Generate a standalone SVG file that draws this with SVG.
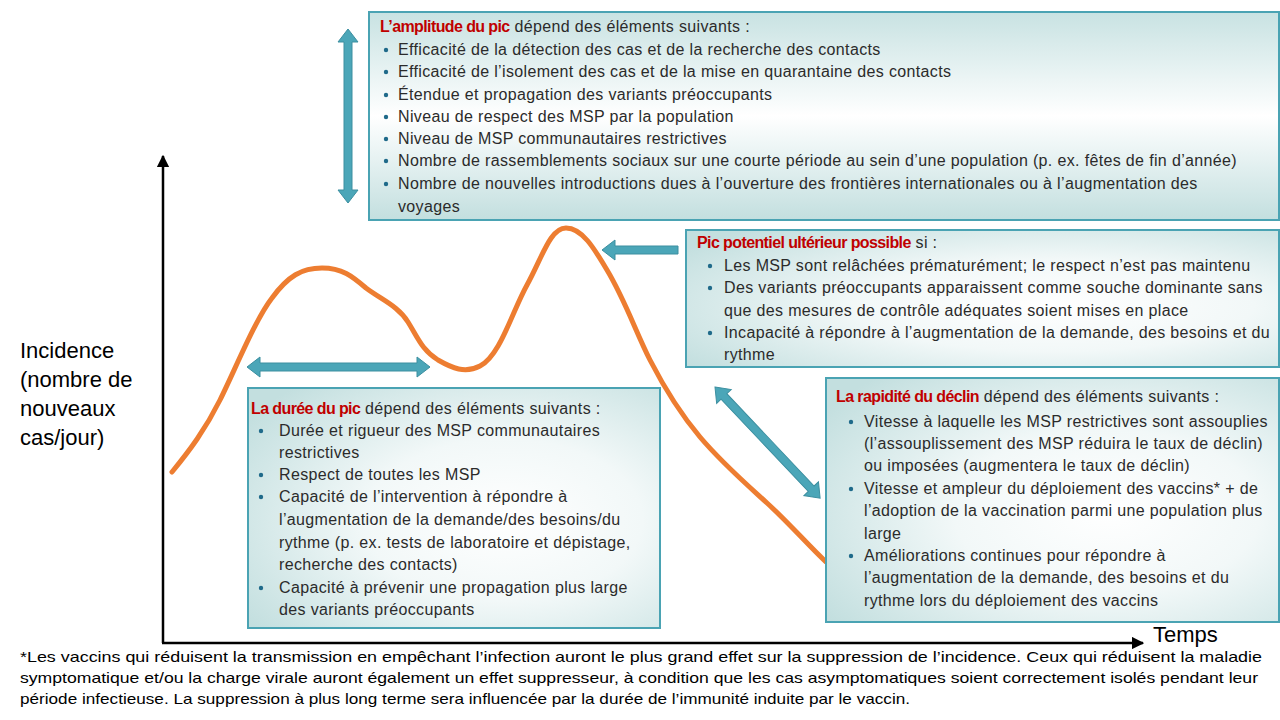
<svg xmlns="http://www.w3.org/2000/svg" width="1280" height="720" viewBox="0 0 1280 720">
<defs>
<radialGradient id="gR" cx="0.62" cy="0.55" r="0.75">
<stop offset="0" stop-color="#ffffff"/>
<stop offset="0.45" stop-color="#f2f8f8"/>
<stop offset="1" stop-color="#c3dfdf"/>
</radialGradient>
<linearGradient id="gV" x1="0" y1="0" x2="0" y2="1">
<stop offset="0" stop-color="#c8e2e2"/>
<stop offset="0.5" stop-color="#ffffff"/>
<stop offset="1" stop-color="#c3dfdf"/>
</linearGradient>
<marker id="ah" viewBox="0 0 10 10" refX="9" refY="5" markerWidth="5" markerHeight="5" orient="auto">
<path d="M0,0 L10,5 L0,10 z" fill="#000"/>
</marker>
</defs>
<style>
.box{stroke:#4aa3b3;stroke-width:2}
.t{font-family:"Liberation Sans",Arial,sans-serif;font-size:16px;letter-spacing:0.35px;fill:#2b2b2b}
.r{font-size:16px;font-weight:bold;letter-spacing:-0.6px;fill:#c00000}
.lab{font-family:"Liberation Sans",Arial,sans-serif;font-size:22px;fill:#000}
.fn{font-family:"Liberation Sans",Arial,sans-serif;font-size:15px;fill:#000}
.dot{fill:#1f6a8a}
.arr{fill:#4ba6b8;stroke:#3c8fa0;stroke-width:1}
.curve{fill:none;stroke:#ed7d31;stroke-width:5;stroke-linecap:round;stroke-linejoin:round}
.axis{stroke:#000;stroke-width:2.5;fill:none}
</style>
<rect width="1280" height="720" fill="#fff"/>

<g id="axes">
<line class="axis" x1="163" y1="643" x2="163" y2="156" marker-end="url(#ah)"/>
<line class="axis" x1="162" y1="643" x2="1143" y2="643" marker-end="url(#ah)"/>
<text class="lab" x="1153" y="642">Temps</text>
<text class="lab" x="20" y="358">Incidence</text>
<text class="lab" x="20" y="387">(nombre de</text>
<text class="lab" x="20" y="416">nouveaux</text>
<text class="lab" x="20" y="445">cas/jour)</text>
</g>

<g id="curve">
<path class="curve" d="M172,472 C190,450 205,430 220,400 C235,370 255,320 272,298 C288,276 302,268 322,268 C342,268 352,276 366,288 C382,300 398,306 408,322 C418,338 422,350 438,360 C452,368 465,374 480,366 C500,356 512,312 527,285 C542,258 550,228 566,228 C582,228 594,248 607,270 C625,300 635,330 650,360 C668,395 684,418 700,437 C722,463 744,482 767,503 C788,522 808,545 826,562"/>
</g>

<g id="connectors">
<polygon class="arr" transform="translate(348,29) rotate(90)" points="0,0 13,-10 13,-4 161,-4 161,-10 174,0 161,10 161,4 13,4 13,10"/>
<polygon class="arr" transform="translate(247,367)" points="0,0 13,-10 13,-4 170,-4 170,-10 183,0 170,10 170,4 13,4 13,10"/>
<polygon class="arr" points="602,250 615,240 615,246 678,246 678,254 615,254 615,260"/>
<polygon class="arr" transform="translate(715,387) rotate(46.6)" points="0,0 13,-10 13,-4 140,-4 140,-10 153,0 140,10 140,4 13,4 13,10"/>
</g>

<g id="box-amplitude">
<rect class="box" x="369" y="12" width="910" height="208" fill="url(#gV)"/>
<text class="t" x="380" y="32"><tspan class="r">L’amplitude du pic</tspan> dépend des éléments suivants :</text>
<circle class="dot" cx="386" cy="50" r="2.2"/><text class="t" x="398" y="55">Efficacité de la détection des cas et de la recherche des contacts</text>
<circle class="dot" cx="386" cy="72" r="2.2"/><text class="t" x="398" y="77">Efficacité de l’isolement des cas et de la mise en quarantaine des contacts</text>
<circle class="dot" cx="386" cy="95" r="2.2"/><text class="t" x="398" y="100">Étendue et propagation des variants préoccupants</text>
<circle class="dot" cx="386" cy="117" r="2.2"/><text class="t" x="398" y="122">Niveau de respect des MSP par la population</text>
<circle class="dot" cx="386" cy="139" r="2.2"/><text class="t" x="398" y="144">Niveau de MSP communautaires restrictives</text>
<circle class="dot" cx="386" cy="161" r="2.2"/><text class="t" x="398" y="166">Nombre de rassemblements sociaux sur une courte période au sein d’une population (p. ex. fêtes de fin d’année)</text>
<circle class="dot" cx="386" cy="184" r="2.2"/><text class="t" x="398" y="189">Nombre de nouvelles introductions dues à l’ouverture des frontières internationales ou à l’augmentation des</text>
<text class="t" x="398" y="212">voyages</text>
</g>

<g id="box-pic-ulterieur">
<rect class="box" x="686" y="230" width="593" height="137" fill="url(#gR)"/>
<text class="t" x="697" y="248"><tspan class="r">Pic potentiel ultérieur possible</tspan> si :</text>
<circle class="dot" cx="710" cy="266" r="2.2"/><text class="t" x="724" y="271">Les MSP sont relâchées prématurément; le respect n’est pas maintenu</text>
<circle class="dot" cx="710" cy="288" r="2.2"/><text class="t" x="724" y="293">Des variants préoccupants apparaissent comme souche dominante sans</text>
<text class="t" x="724" y="316">que des mesures de contrôle adéquates soient mises en place</text>
<circle class="dot" cx="710" cy="333" r="2.2"/><text class="t" x="724" y="338">Incapacité à répondre à l’augmentation de la demande, des besoins et du</text>
<text class="t" x="724" y="360">rythme</text>
</g>

<g id="box-declin">
<rect class="box" x="826" y="378" width="453" height="244" fill="url(#gR)"/>
<text class="t" x="836" y="402"><tspan class="r">La rapidité du déclin</tspan> dépend des éléments suivants :</text>
<circle class="dot" cx="851" cy="422" r="2.2"/><text class="t" x="864" y="427">Vitesse à laquelle les MSP restrictives sont assouplies</text>
<text class="t" x="864" y="449">(l’assouplissement des MSP réduira le taux de déclin)</text>
<text class="t" x="864" y="471">ou imposées (augmentera le taux de déclin)</text>
<circle class="dot" cx="851" cy="489" r="2.2"/><text class="t" x="864" y="494">Vitesse et ampleur du déploiement des vaccins* + de</text>
<text class="t" x="864" y="516">l’adoption de la vaccination parmi une population plus</text>
<text class="t" x="864" y="539">large</text>
<circle class="dot" cx="851" cy="556" r="2.2"/><text class="t" x="864" y="561">Améliorations continues pour répondre à</text>
<text class="t" x="864" y="583">l’augmentation de la demande, des besoins et du</text>
<text class="t" x="864" y="606">rythme lors du déploiement des vaccins</text>
</g>

<g id="box-duree">
<rect class="box" x="248" y="388" width="412" height="240" fill="url(#gR)"/>
<text class="t" x="251" y="414"><tspan class="r">La durée du pic</tspan> dépend des éléments suivants :</text>
<circle class="dot" cx="261" cy="431" r="2.2"/><text class="t" x="279" y="436">Durée et rigueur des MSP communautaires</text>
<text class="t" x="279" y="458">restrictives</text>
<circle class="dot" cx="261" cy="475" r="2.2"/><text class="t" x="279" y="480">Respect de toutes les MSP</text>
<circle class="dot" cx="261" cy="497" r="2.2"/><text class="t" x="279" y="502">Capacité de l’intervention à répondre à</text>
<text class="t" x="279" y="525">l’augmentation de la demande/des besoins/du</text>
<text class="t" x="279" y="548">rythme (p. ex. tests de laboratoire et dépistage,</text>
<text class="t" x="279" y="570">recherche des contacts)</text>
<circle class="dot" cx="261" cy="588" r="2.2"/><text class="t" x="279" y="593">Capacité à prévenir une propagation plus large</text>
<text class="t" x="279" y="615">des variants préoccupants</text>
</g>

<g id="footnote">
<text class="fn" x="20" y="662" textLength="1242" lengthAdjust="spacingAndGlyphs">*Les vaccins qui réduisent la transmission en empêchant l’infection auront le plus grand effet sur la suppression de l’incidence. Ceux qui réduisent la maladie</text>
<text class="fn" x="20" y="683" textLength="1238" lengthAdjust="spacingAndGlyphs">symptomatique et/ou la charge virale auront également un effet suppresseur, à condition que les cas asymptomatiques soient correctement isolés pendant leur</text>
<text class="fn" x="20" y="704" textLength="890" lengthAdjust="spacingAndGlyphs">période infectieuse. La suppression à plus long terme sera influencée par la durée de l’immunité induite par le vaccin.</text>
</g>
</svg>
